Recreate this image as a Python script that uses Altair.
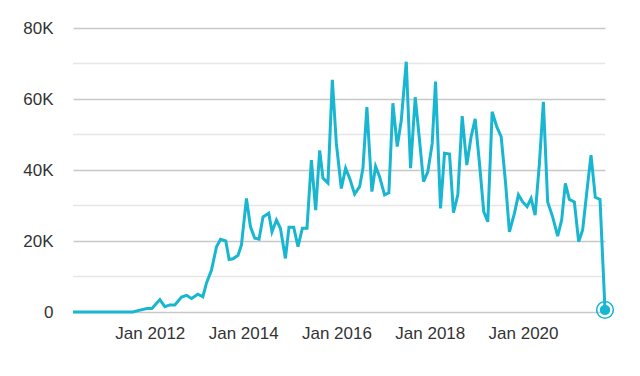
import altair as alt
import pandas as pd

years = [
    2010.352, 2011.636, 2011.743, 2011.936, 2012.043, 2012.214, 2012.321, 2012.428,
    2012.535, 2012.679, 2012.786, 2012.893, 2013.028, 2013.135, 2013.214, 2013.321,
    2013.428, 2013.514, 2013.627, 2013.698, 2013.783, 2013.890, 2013.963, 2014.070,
    2014.156, 2014.248, 2014.340, 2014.426, 2014.548, 2014.618, 2014.713, 2014.798,
    2014.905, 2014.982, 2015.083, 2015.175, 2015.269, 2015.368, 2015.462, 2015.554,
    2015.640, 2015.710, 2015.817, 2015.911, 2015.997, 2016.104, 2016.196, 2016.282,
    2016.389, 2016.496, 2016.567, 2016.652, 2016.759, 2016.838, 2016.924, 2017.031,
    2017.123, 2017.209, 2017.303, 2017.389, 2017.496, 2017.588, 2017.688, 2017.780,
    2017.866, 2017.958, 2018.052, 2018.123, 2018.230, 2018.316, 2018.423, 2018.508,
    2018.601, 2018.695, 2018.793, 2018.887, 2018.973, 2019.065, 2019.157, 2019.243,
    2019.337, 2019.435, 2019.530, 2019.622, 2019.707, 2019.814, 2019.900, 2019.992,
    2020.086, 2020.172, 2020.258, 2020.350, 2020.435, 2020.527, 2020.634, 2020.741,
    2020.827, 2020.906, 2020.992, 2021.099, 2021.191, 2021.277, 2021.371, 2021.456,
    2021.548, 2021.649, 2021.756,
]
values = [
    0, 0, 400, 1000, 1000, 3500, 1500, 2000,
    2000, 4200, 4700, 3800, 5000, 4300, 8200, 11800,
    18400, 20500, 20000, 14800, 15000, 16000, 18900, 32000,
    24000, 20800, 20500, 26800, 27800, 22600, 25900, 23600,
    15100, 23900, 23900, 18400, 23600, 23600, 42800, 28700,
    45500, 37700, 36300, 65400, 47500, 34800, 40500, 37700,
    33200, 35300, 40500, 57700, 33900, 41000, 38100, 33000,
    33600, 58800, 46600, 54000, 70500, 40500, 60500, 48400,
    36700, 39500, 47500, 64900, 29200, 44700, 44500, 28000,
    33000, 55200, 41400, 49400, 54400, 41900, 28300, 25400,
    56400, 52200, 49400, 36700, 22600, 27800, 33000, 31000,
    29700, 32000, 27300, 41900, 59200, 31000, 26800, 21400,
    25900, 36200, 31700, 31000, 19800, 23100, 34400, 44200,
    32300, 31700, 600,
]

label_years = [2012, 2014, 2016, 2018, 2020]
y_major = [0, 20000, 40000, 60000, 80000]
y_minor = [10000, 30000, 50000, 70000]

base_date = pd.Timestamp("2010-01-01")
dates = [base_date + pd.Timedelta(days=(y - 2010) * 365.25) for y in years]
df = pd.DataFrame({"date": [d.strftime("%Y-%m-%dT%H:%M:%S") for d in dates], "value": values})
last = df.tail(1)
minor_df = pd.DataFrame({"value": y_minor})

color = "#18b6d0"
font = "Liberation Sans"

x_enc = alt.X(
    "date:T",
    title=None,
    scale=alt.Scale(nice=False),
    axis=alt.Axis(
        values=[alt.DateTime(year=y, month=1, date=1) for y in label_years],
        format="%b %Y",
        grid=False,
        ticks=False,
        domain=False,
        labelPadding=13,
        labelFontSize=17,
        labelColor="#333333",
        labelFont=font,
    ),
)
y_axis = alt.Axis(
    values=y_major,
    labelExpr="datum.value === 0 ? '0' : (datum.value / 1000) + 'K'",
    gridColor="#c8c8c8",
    gridWidth=1.5,
    ticks=False,
    domain=False,
    labelPadding=20,
    labelFontSize=17,
    labelColor="#333333",
    labelFont=font,
)
y_enc = alt.Y("value:Q", title=None, scale=alt.Scale(domain=[0, 80000], nice=False), axis=y_axis)

minor = alt.Chart(minor_df).mark_rule(color="#e6e6e6", strokeWidth=1.5).encode(y=y_enc)
line = alt.Chart(df).mark_line(color=color, strokeWidth=3).encode(x=x_enc, y=y_enc)
dot = alt.Chart(last).mark_point(filled=True, color=color, size=110, opacity=1).encode(x="date:T", y="value:Q")
ring = alt.Chart(last).mark_point(filled=False, color=color, size=280, strokeWidth=1.6, opacity=1).encode(x="date:T", y="value:Q")

chart = (
    alt.layer(minor, line, ring, dot)
    .properties(
        width=532,
        height=284,
        autosize=alt.AutoSizeParams(type="none"),
        padding={"left": 65, "top": 20, "right": 20, "bottom": 40},
    )
    .configure_view(stroke=None)
)

chart.save("out.html", embed_options={"renderer": "svg", "actions": False})
